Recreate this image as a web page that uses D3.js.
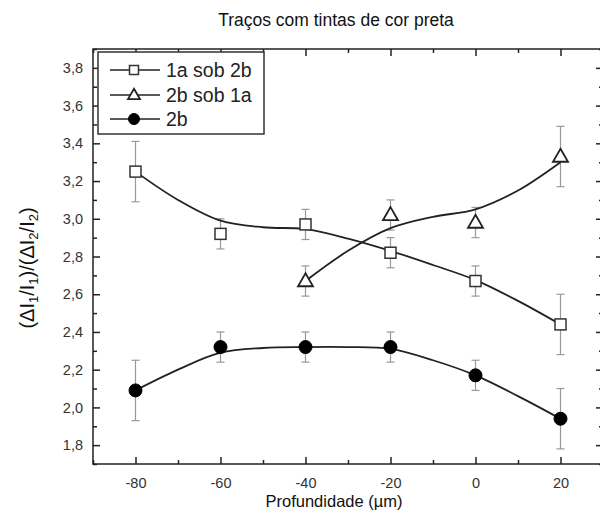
<!DOCTYPE html>
<html>
<head>
<meta charset="utf-8">
<script src="https://cdn.jsdelivr.net/npm/d3@7"></script>
<style>
  html, body { margin: 0; padding: 0; background: #fff; overflow: hidden; }
  svg { display: block; font-family: Arial, "Liberation Sans", sans-serif; }
</style>
</head>
<body>
<svg id="chart" width="600" height="519"></svg>
<script>
// Depth positions (µm)
const depths = [-80, -60, -40, -20, 0, 20];

// Measured ratios and their error half-widths
const sqValues = [3.25, 2.92, 2.97, 2.82, 2.67, 2.44];
const sqErrors = [0.16, 0.08, 0.08, 0.08, 0.08, 0.16];

const triDepths = [-40, -20, 0, 20];
const triValues = [2.67, 3.02, 2.98, 3.33];
const triErrors = [0.08, 0.08, 0.08, 0.16];

const ciValues = [2.09, 2.32, 2.32, 2.32, 2.17, 1.94];
const ciErrors = [0.16, 0.08, 0.08, 0.08, 0.08, 0.16];

// Smoothed trend curves
const fitDepths = [-80, -70, -60, -50, -40, -30, -20, -10, 0, 10, 20];
const sqFit = [3.25, 3.10, 2.99, 2.955, 2.945, 2.895, 2.83, 2.755, 2.675, 2.565, 2.44];
const triFitDepths = [-40, -30, -20, -10, 0, 10, 20];
const triFit = [2.67, 2.83, 2.95, 3.01, 3.05, 3.15, 3.30];
const ciFit = [2.09, 2.20, 2.29, 2.315, 2.32, 2.32, 2.31, 2.25, 2.17, 2.06, 1.94];

// Axis ticks
const xMajor = [-80, -60, -40, -20, 0, 20];
const xMinor = [-90, -70, -50, -30, -10, 10, 30];
const yMajor = [1.8, 2.0, 2.2, 2.4, 2.6, 2.8, 3.0, 3.2, 3.4, 3.6, 3.8];
const yMinor = [1.7, 1.9, 2.1, 2.3, 2.5, 2.7, 2.9, 3.1, 3.3, 3.5, 3.7, 3.9];

const seriesNames = ["1a sob 2b", "2b sob 1a", "2b"];

const svg = d3.select("#chart");
const plotL = 93, plotR = 603, plotT = 49, plotB = 464;

const x = d3.scaleLinear().domain([-90, 30]).range([plotL, plotR]);
const y = d3.scaleLinear().domain([1.7, 3.9]).range([plotB, plotT]);

const axisColor = "#222";
const fmt = v => d3.format(".1f")(v).replace(".", ",");

// Frame
svg.append("rect")
  .attr("x", plotL).attr("y", plotT)
  .attr("width", plotR - plotL).attr("height", plotB - plotT)
  .attr("fill", "none").attr("stroke", axisColor).attr("stroke-width", 1.5);

// Bottom axis (inward ticks)
const gB = svg.append("g").attr("transform", `translate(0,${plotB})`)
  .call(d3.axisBottom(x).tickValues(xMajor).tickSizeInner(-7).tickSizeOuter(0).tickPadding(14).tickFormat(d => String(d)));
gB.select(".domain").remove();
const gBm = svg.append("g").attr("transform", `translate(0,${plotB})`)
  .call(d3.axisBottom(x).tickValues(xMinor).tickSize(-4).tickFormat(""));
gBm.select(".domain").remove();

// Top axis (inward ticks, no labels)
const gT = svg.append("g").attr("transform", `translate(0,${plotT})`)
  .call(d3.axisTop(x).tickValues(xMajor).tickSize(-7).tickFormat(""));
gT.select(".domain").remove();
const gTm = svg.append("g").attr("transform", `translate(0,${plotT})`)
  .call(d3.axisTop(x).tickValues(xMinor).tickSize(-4).tickFormat(""));
gTm.select(".domain").remove();

// Left axis
const gL = svg.append("g").attr("transform", `translate(${plotL},0)`)
  .call(d3.axisLeft(y).tickValues(yMajor).tickSizeInner(-7).tickSizeOuter(0).tickPadding(10).tickFormat(fmt));
gL.select(".domain").remove();
const gLm = svg.append("g").attr("transform", `translate(${plotL},0)`)
  .call(d3.axisLeft(y).tickValues(yMinor).tickSize(-4).tickFormat(""));
gLm.select(".domain").remove();

// Right axis
const gR = svg.append("g").attr("transform", `translate(${plotR},0)`)
  .call(d3.axisRight(y).tickValues(yMajor).tickSize(-7).tickFormat(""));
gR.select(".domain").remove();
const gRm = svg.append("g").attr("transform", `translate(${plotR},0)`)
  .call(d3.axisRight(y).tickValues(yMinor).tickSize(-4).tickFormat(""));
gRm.select(".domain").remove();

svg.selectAll(".tick line").attr("stroke", axisColor).attr("stroke-width", 1.5);
svg.selectAll(".tick text").attr("fill", "#333").style("font-size", "14.5px")
  .style("font-family", "Arial, 'Liberation Sans', sans-serif");

// Error bars
function errorBars(xs, vs, es) {
  const g = svg.append("g").attr("stroke", "#999").attr("stroke-width", 1.2).attr("fill", "none");
  xs.forEach((d, i) => {
    const cx = x(d), y1 = y(vs[i] + es[i]), y2 = y(vs[i] - es[i]);
    g.append("line").attr("x1", cx).attr("x2", cx).attr("y1", y1).attr("y2", y2);
    g.append("line").attr("x1", cx - 4).attr("x2", cx + 4).attr("y1", y1).attr("y2", y1);
    g.append("line").attr("x1", cx - 4).attr("x2", cx + 4).attr("y1", y2).attr("y2", y2);
  });
}
errorBars(depths, sqValues, sqErrors);
errorBars(triDepths, triValues, triErrors);
errorBars(depths, ciValues, ciErrors);

// Trend curves
const line = d3.line().x(d => x(d[0])).y(d => y(d[1])).curve(d3.curveCatmullRom.alpha(0.5));
function trend(xs, vs) {
  svg.append("path")
    .datum(xs.map((d, i) => [d, vs[i]]))
    .attr("d", line)
    .attr("fill", "none").attr("stroke", "#222").attr("stroke-width", 1.8);
}
trend(fitDepths, sqFit);
trend(triFitDepths, triFit);
trend(fitDepths, ciFit);

// Marker shapes
function square(g, s) {
  return g.append("rect").attr("x", -s / 2).attr("y", -s / 2).attr("width", s).attr("height", s)
    .attr("fill", "#fff").attr("stroke", "#333").attr("stroke-width", 1.5);
}
function triangle(g, w) {
  const h = w * 0.87;
  return g.append("path")
    .attr("d", `M0,${-h * 0.6}L${w / 2},${h * 0.4}L${-w / 2},${h * 0.4}Z`)
    .attr("fill", "#fff").attr("stroke", "#222").attr("stroke-width", 1.8);
}
function circle(g, r) {
  return g.append("circle").attr("r", r).attr("fill", "#000").attr("stroke", "#000");
}

depths.forEach((d, i) => square(svg.append("g").attr("transform", `translate(${x(d)},${y(sqValues[i])})`), 11));
triDepths.forEach((d, i) => triangle(svg.append("g").attr("transform", `translate(${x(d)},${y(triValues[i])})`), 15));
depths.forEach((d, i) => circle(svg.append("g").attr("transform", `translate(${x(d)},${y(ciValues[i])})`), 6.5));

// Legend
const lg = svg.append("g");
lg.append("rect").attr("x", 98).attr("y", 52).attr("width", 166).attr("height", 82)
  .attr("fill", "#fff").attr("stroke", "#333").attr("stroke-width", 1.5);
const rowsY = [70, 95, 119];
const markers = [g => square(g, 9), g => triangle(g, 12), g => circle(g, 5.5)];
seriesNames.forEach((name, i) => {
  const ry = rowsY[i];
  lg.append("line").attr("x1", 110).attr("x2", 160).attr("y1", ry).attr("y2", ry)
    .attr("stroke", "#222").attr("stroke-width", 1.5);
  markers[i](lg.append("g").attr("transform", `translate(134,${ry})`));
  lg.append("text").attr("x", 166).attr("y", ry + 6.5).text(name)
    .style("font-size", "19.5px").attr("fill", "#222");
});

// Title
svg.append("text").attr("x", 336).attr("y", 26).attr("text-anchor", "middle")
  .style("font-size", "17.5px").attr("fill", "#111").text("Traços com tintas de cor preta");

// X axis label
svg.append("text").attr("x", 334).attr("y", 507).attr("text-anchor", "middle")
  .style("font-size", "16.5px").attr("fill", "#111").text("Profundidade (µm)");

// Y axis label with subscripts
const yl = svg.append("text")
  .attr("transform", `translate(34,268) rotate(-90)`)
  .attr("text-anchor", "middle").style("font-size", "20px").attr("fill", "#111");
const parts = [["(ΔI", false], ["1", true], ["/I", false], ["1", true], [")/(ΔI", false], ["2", true], ["/I", false], ["2", true], [")", false]];
parts.forEach(([t, sub]) => {
  const ts = yl.append("tspan").text(t);
  if (sub) ts.attr("baseline-shift", "-30%").style("font-size", "13px");
});
</script>
</body>
</html>
